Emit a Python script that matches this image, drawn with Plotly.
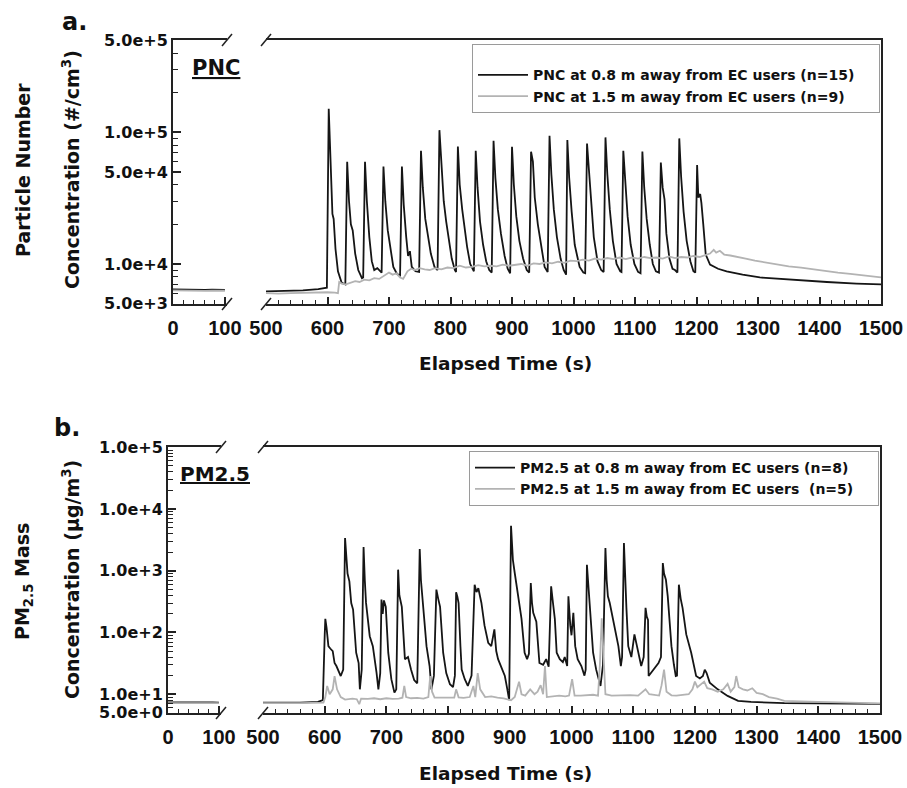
import math
import plotly.graph_objects as go

W, H = 907, 788

# ---------------- data ----------------
# Panel a: particle number concentration (#/cm3)
pnc_seg1_t = [0, 12, 25, 38, 50, 62, 75, 88, 100]
pnc08_seg1_v = [6400, 6380, 6420, 6360, 6400, 6350, 6380, 6340, 6360]
pnc15_seg1_v = [6300, 6280, 6320, 6260, 6300, 6250, 6280, 6240, 6260]

pnc08_t = [
    500, 530, 560, 585, 595, 599,
    602, 605, 608, 610, 613, 617, 623, 629,
    632, 635, 638, 641, 645, 650, 656, 658,
    661, 664, 668, 672, 676, 681, 686, 688,
    691, 694, 698, 702, 707, 713, 718,
    721, 724, 728, 731, 734, 737, 743, 749,
    752, 755, 759, 763, 768, 774, 779,
    782, 785, 789, 793, 797, 802, 807, 809,
    812, 815, 819, 822, 827, 832, 838,
    841, 844, 848, 853, 858, 863, 867,
    870, 873, 877, 882, 888, 893, 897,
    900, 903, 907, 912, 918, 924, 928,
    931, 934, 937, 942, 948, 953, 958,
    961, 964, 968, 973, 979, 984, 988,
    990, 993, 997, 1002, 1006, 1010, 1016, 1019,
    1022, 1025, 1028, 1033, 1039, 1045, 1049,
    1052, 1055, 1059, 1064, 1070, 1076, 1078,
    1081, 1084, 1088, 1093, 1099, 1105, 1109,
    1112, 1115, 1119, 1124, 1129, 1134, 1139,
    1142, 1145, 1148, 1151, 1156, 1161, 1165, 1169,
    1172, 1175, 1179, 1184, 1190, 1195, 1198,
    1201, 1203, 1206, 1208, 1211, 1215, 1222, 1235, 1249, 1275, 1303, 1350, 1412, 1460, 1500,
]
pnc08_v = [
    6200, 6250, 6300, 6450, 6500, 6600,
    151000, 50000, 24000, 22000, 13000, 8800, 7200, 7000,
    59700, 30000, 20000, 18000, 12000, 9000, 7800, 7900,
    59700, 30000, 16000, 10500, 9000, 9300, 8700, 8600,
    55000, 30000, 18000, 13000, 9500, 8400, 8200,
    55000, 28000, 16000, 11500, 12500, 9500, 8800, 8700,
    72400, 38000, 22000, 16500, 12000, 9500, 9000,
    104000, 55000, 30000, 21000, 16000, 11000, 9000, 8700,
    78200, 40000, 26000, 20000, 13500, 10000, 8800,
    72400, 38000, 21000, 14000, 10500, 9000, 8600,
    86400, 45000, 26000, 17000, 11500, 9200, 8500,
    77800, 40000, 23000, 15000, 11000, 9000, 8600,
    71300, 60000, 32000, 20000, 13000, 9500, 8700,
    94300, 48000, 26000, 16000, 11000, 9000, 8300,
    87500, 45000, 25000, 14000, 11500, 9500, 8600, 8500,
    82400, 54000, 30000, 16000, 10500, 9000, 8700,
    91600, 48000, 26000, 15000, 10000, 8800, 8700,
    72400, 40000, 23000, 14000, 10000, 8700, 8500,
    71600, 38000, 22000, 14000, 10000, 8800, 8600,
    59000, 38000, 31000, 17000, 11000, 9200, 9000, 8600,
    90000, 46000, 25000, 15000, 10500, 8800, 8600,
    56600, 32000, 34000, 29000, 20000, 11800, 9900, 9200, 8800, 8300, 7900, 7600, 7300, 7100, 7000,
]

pnc15_t = [
    500, 520, 540, 560, 580, 600, 612, 617, 619, 623, 630, 638, 645, 652, 660, 668,
    676, 684, 692, 700, 706, 712, 718, 723, 730, 736, 742, 750, 758, 766, 775, 785,
    795, 805, 815, 825, 835, 845, 855, 865, 875, 885, 895, 905, 915, 925, 935, 945,
    955, 965, 975, 985, 995, 1005, 1015, 1025, 1035, 1045, 1055, 1065, 1075, 1085,
    1095, 1105, 1115, 1125, 1135, 1145, 1155, 1165, 1175, 1185, 1195, 1205, 1215,
    1222, 1228, 1232, 1238, 1245, 1255, 1265, 1280, 1295, 1310, 1330, 1350, 1370,
    1390, 1410, 1430, 1450, 1470, 1485, 1500,
]
pnc15_v = [
    6000, 5950, 6000, 6050, 6100, 6100, 6050, 6000, 7300, 7100, 7000, 7200, 7400, 7300, 7600, 7500,
    7800, 7700, 8100, 8600, 8300, 8500, 7900, 7700, 8800, 9200, 9000, 9300, 9100, 9000, 9300, 9100,
    9400, 9300, 9700, 9400, 9500, 9800, 9600, 9700, 9600, 9900, 9700, 9800, 10000, 9700, 10100, 10000,
    10300, 10100, 10400, 10200, 10600, 10500, 10800, 10600, 11000, 10800, 11100, 10900, 11200, 10900,
    11200, 11000, 11300, 11100, 11200, 11000, 11400, 11100, 11300, 11200, 11500, 11300, 11700,
    12000, 12800, 12200, 12600, 11800, 11600, 11400, 11000, 10600, 10300, 9900, 9600, 9400,
    9100, 8900, 8600, 8400, 8200, 8000, 7900,
]

# Panel b: PM2.5 mass concentration (ug/m3)
pm_seg1_t = [0, 12, 25, 38, 50, 62, 75, 88, 100]
pm08_seg1_v = [7.4, 7.3, 7.4, 7.35, 7.4, 7.3, 7.4, 7.35, 7.3]
pm15_seg1_v = [7.2, 7.25, 7.2, 7.15, 7.2, 7.25, 7.2, 7.15, 7.2]

pm08_t = [
    500, 530, 560, 589, 597,
    600, 601, 603, 606, 609, 613, 616, 619, 626, 630,
    633, 635, 637, 640, 643, 646, 651, 655, 657,
    660, 663, 665, 667, 673, 678, 684, 687,
    690, 692, 694, 696, 699, 701, 703, 708, 713, 716,
    719, 721, 723, 725, 730, 735, 740, 745, 750,
    754, 756, 759, 765, 770, 773, 777,
    781, 784, 787, 792, 797, 803, 808, 811,
    813, 815, 817, 820, 822, 827, 832, 838,
    843, 846, 849, 854, 859, 865, 870, 875, 878, 881, 886, 892, 896, 899,
    902, 905, 908, 913, 919, 924, 928, 931,
    934, 936, 938, 943, 948, 954, 959, 963,
    967, 970, 973, 976, 981, 986, 989, 993,
    995, 998, 1000, 1003, 1006, 1010, 1016, 1021, 1023,
    1025, 1027, 1029, 1035, 1040, 1043, 1047, 1051,
    1055, 1057, 1059, 1062, 1067, 1072, 1076, 1080, 1082,
    1085, 1087, 1089, 1092, 1097, 1102, 1108, 1113, 1117,
    1120, 1122, 1124, 1125, 1129, 1133, 1137, 1141, 1145,
    1148, 1150, 1153, 1156, 1159, 1162, 1166, 1169, 1171,
    1174, 1177, 1180, 1186, 1194, 1202, 1208, 1213, 1216, 1219, 1224,
    1237, 1253, 1270, 1291, 1345, 1400, 1450, 1500,
]
pm08_v = [
    7.3, 7.2, 7.3, 7.5, 8.0,
    90, 166, 120, 60, 55, 50, 32, 28.6, 19.7, 25,
    3370, 1500, 900, 673, 300, 235, 47, 32, 12,
    25, 2410, 700, 301, 87, 60, 22.4, 12,
    22, 340, 200, 330, 260, 100, 47, 17.5, 10.6, 12,
    1040, 400, 300, 260, 37, 40, 25, 17, 15,
    2240, 700, 300, 60, 28.6, 12, 20,
    494, 350, 260, 47, 22, 14.5, 13, 20,
    447, 380, 300, 60, 25, 17.5, 13.6, 20,
    594, 450, 520, 300, 130, 68, 60, 112, 50, 37, 28, 19.7, 12, 8,
    5320, 1500, 918, 385, 166, 47, 37, 45,
    630, 300, 208, 150, 32, 30, 37, 28,
    558, 300, 166, 47, 37, 33, 40, 28.6,
    385, 130, 90, 208, 60, 37, 28.6, 20, 25,
    1250, 600, 300, 47, 25, 19.7, 13.6, 30,
    2320, 700, 385, 300, 166, 90, 60, 28.6, 40,
    2800, 700, 250, 60, 40, 93, 47, 28.6, 40,
    250, 180, 160, 19.7, 22, 25, 28.6, 32, 40,
    1330, 900, 716, 385, 150, 60, 30, 19.7, 20,
    594, 350, 250, 93, 47, 19.7, 18, 19.7, 25, 22, 15.4,
    12, 9.4, 7.8, 7.5, 7.2, 7.1, 7.05, 7.0,
]

pm15_t = [
    500, 530, 560, 598, 601, 604, 608, 613, 616, 620, 626, 633, 645, 652, 656, 659,
    670, 680, 690, 700, 710, 720, 726, 729, 732, 740, 750, 760, 768, 771, 774, 778,
    790, 800, 810, 813, 817, 825, 835, 841, 844, 848, 852, 860, 870, 880, 890, 898,
    902, 908, 915, 919, 925, 933, 940, 945, 950, 954, 957, 960, 970, 980, 990, 996,
    1001, 1005, 1015, 1025, 1035, 1043, 1046, 1049, 1052, 1055, 1065, 1080, 1095,
    1108, 1115, 1120, 1126, 1135, 1142, 1146, 1150, 1154, 1162, 1170, 1180, 1190,
    1196, 1200, 1204, 1210, 1215, 1220, 1228, 1237, 1246, 1253, 1258, 1264, 1267,
    1271, 1278, 1285, 1293, 1300, 1310, 1320, 1333, 1345, 1370, 1400, 1450, 1500,
]
pm15_v = [
    7.2, 7.3, 7.2, 7.3, 9, 13.6, 10, 12, 19.7, 12, 9, 8.2, 8.5, 8.3, 6.9, 8.5,
    8.4, 8.6, 8.3, 8.6, 8.4, 8.5, 8.8, 13.6, 9, 8.6, 8.7, 8.5, 9, 19.7, 11, 8.8,
    8.8, 8.6, 8.8, 12, 8.9, 8.7, 9, 13.6, 9, 22, 12, 9, 9.2, 8.8, 8.6, 8.2,
    8, 9, 15.9, 10, 9.5, 12, 10, 11, 14, 10, 28.6, 9, 9.3, 9.5, 9.2, 9.5,
    17.5, 9.5, 9.5, 9.6, 9.8, 9.5, 30, 170, 40, 10, 9.5, 9.6, 9.7,
    9.5, 11, 12, 10, 9.6, 9.5, 14, 25, 11, 9.6, 9.5, 9.8, 10,
    12, 16, 13, 14.5, 16, 12.5, 12, 11, 12, 14.7, 11, 13, 19.7,
    13, 12, 11.5, 12.5, 10.5, 10, 9, 8.5, 7.8, 7.6, 7.5, 7.3, 7.1,
]

pnc_tickvals = [5e3, 1e4, 5e4, 1e5, 5e5]
pnc_ticktext = ["5.0e+3", "1.0e+4", "5.0e+4", "1.0e+5", "5.0e+5"]
pnc_minorvals = [6e3, 7e3, 8e3, 9e3, 2e4, 3e4, 4e4, 6e4, 7e4, 8e4, 9e4, 2e5, 3e5, 4e5]
pm_tickvals = [5, 10, 100, 1000, 1e4, 1e5]
pm_ticktext = ["5.0e+0", "1.0e+1", "1.0e+2", "1.0e+3", "1.0e+4", "1.0e+5"]
pm_minorvals = [6, 7, 8, 9] + [m * 10 ** e for e in (1, 2, 3, 4) for m in range(2, 10)]

assert len(pnc08_t) == len(pnc08_v)
assert len(pnc15_t) == len(pnc15_v)
assert len(pm08_t) == len(pm08_v)
assert len(pm15_t) == len(pm15_v)

# ---------------- layout geometry (pixels) ----------------
A = dict(left=173, seg1_end=227, seg2_start=266, right=881, top=40, bottom=304)
B = dict(left=168, seg1_end=221, seg2_start=263, right=880, top=447, bottom=713)


def xp(px):
    return px / W


def yp(py):
    return 1 - py / H


BLACK = "#151515"
GRAY = "#b3b3b3"
FRAME = "#222222"
XTICK_FONT = dict(family="Liberation Sans, Arial", size=20, color="#111", weight="bold")
YTICK_FONT = dict(family="DejaVu Sans", size=16, color="#111", weight="bold")
TXT = "DejaVu Sans"


def xcfg(g, seg, anchor):
    if seg == 1:
        dom = [xp(g["left"]), xp(g["seg1_end"])]
        rng, t0 = [0, 104], 0
    else:
        dom = [xp(g["seg2_start"]), xp(g["right"])]
        rng, t0 = [500, 1500], 500
    return dict(domain=dom, range=rng, anchor=anchor, tickmode="linear", tick0=t0, dtick=100,
                ticks="inside", ticklen=7, tickwidth=1.5, tickcolor=FRAME,
                minor=dict(ticks="inside", tickmode="linear", tick0=t0, dtick=20, ticklen=4,
                           tickwidth=1, tickcolor=FRAME, showgrid=False),
                showline=True, linewidth=2, linecolor=FRAME, mirror=True, automargin=False,
                showgrid=False, zeroline=False, tickfont=XTICK_FONT, ticklabelstandoff=5)


def ycfg(g, rng, tv, tt, mv, anchor, right=False):
    d = dict(domain=[yp(g["bottom"]), yp(g["top"])], type="log", range=rng, anchor=anchor,
             showline=True, linewidth=2, linecolor=FRAME, showgrid=False, zeroline=False,
             automargin=False)
    if right:
        d.update(side="right", showticklabels=False, ticks="")
    else:
        d.update(tickmode="array", tickvals=tv, ticktext=tt, ticks="inside", ticklen=8,
                 tickwidth=1.5, tickcolor=FRAME, tickfont=YTICK_FONT, ticklabelstandoff=0,
                 minor=dict(ticks="inside", tickmode="array", tickvals=mv, ticklen=5,
                            tickwidth=1, tickcolor=FRAME, showgrid=False))
    return d


eps = 0.003
rng_a = [math.log10(5e3) - eps, math.log10(5e5) + eps]
rng_b = [math.log10(5) - eps, 5 + eps]

fig = go.Figure()


def line(x, y, xa, ya, color, name=None, legend=None, show=False, rank=None):
    fig.add_trace(go.Scatter(x=x, y=y, xaxis=xa, yaxis=ya, mode="lines", name=name,
                             line=dict(color=color, width=1.8), showlegend=show,
                             legend=legend, legendrank=rank if rank else 1000,
                             hoverinfo="skip"))


PAD = "\u00a0" * 4
# panel a
line(pnc_seg1_t, pnc08_seg1_v, "x", "y", BLACK)
line(pnc_seg1_t, pnc15_seg1_v, "x", "y", GRAY)
line(pnc08_t, pnc08_v, "x2", "y2", BLACK, "PNC at 0.8 m away from EC users (n=15)" + PAD, "legend", True, 1)
line(pnc15_t, pnc15_v, "x2", "y2", GRAY, "PNC at 1.5 m away from EC users (n=9)", "legend", True, 2)
# panel b
line(pm_seg1_t, pm08_seg1_v, "x3", "y3", BLACK)
line(pm_seg1_t, pm15_seg1_v, "x3", "y3", GRAY)
line(pm08_t, pm08_v, "x4", "y4", BLACK, "PM2.5 at 0.8 m away from EC users (n=8)", "legend2", True, 1)
line(pm15_t, pm15_v, "x4", "y4", GRAY, "PM2.5 at 1.5 m away from EC users  (n=5)" + PAD, "legend2", True, 2)

LEG_FONT = dict(family=TXT, size=14, color="#111", weight="bold")

fig.update_layout(
    width=W, height=H, margin=dict(l=0, r=0, t=0, b=0, autoexpand=False),
    paper_bgcolor="white", plot_bgcolor="white",
    xaxis=xcfg(A, 1, "y"), xaxis2=xcfg(A, 2, "y2"),
    yaxis=ycfg(A, rng_a, pnc_tickvals, pnc_ticktext, pnc_minorvals, "x"),
    yaxis2=ycfg(A, rng_a, None, None, None, "x2", right=True),
    xaxis3=xcfg(B, 1, "y3"), xaxis4=xcfg(B, 2, "y4"),
    yaxis3=ycfg(B, rng_b, pm_tickvals, pm_ticktext, pm_minorvals, "x3"),
    yaxis4=ycfg(B, rng_b, None, None, None, "x4", right=True),
    legend=dict(x=xp(472), y=yp(44), xanchor="left", yanchor="top", bgcolor="white",
                bordercolor="#9a9a9a", borderwidth=1, font=LEG_FONT, itemwidth=50,
                title=dict(text="\u00a0", font=dict(size=11))),
    legend2=dict(x=xp(469), y=yp(451), xanchor="left", yanchor="top", bgcolor="white",
                 bordercolor="#9a9a9a", borderwidth=1, font=LEG_FONT, itemwidth=40),
    showlegend=True,
)

annots = [
    dict(text="a.", x=xp(74), y=yp(22), size=24),
    dict(text="b.", x=xp(67), y=yp(428), size=24),
    dict(text="<u>PNC</u>", x=xp(216), y=yp(68), size=21),
    dict(text="<u>PM2.5</u>", x=xp(215), y=yp(474), size=20),
    dict(text="Particle Number", x=xp(23), y=yp(170), size=19, angle=-90),
    dict(text="Concentration (#/cm<sup>3</sup>)", x=xp(71), y=yp(170), size=19, angle=-90),
    dict(text="PM<sub>2.5</sub> Mass", x=xp(23), y=yp(582), size=19, angle=-90),
    dict(text="Concentration (\u00b5g/m<sup>3</sup>)", x=xp(71), y=yp(580), size=19, angle=-90),
    dict(text="Elapsed Time (s)", x=xp(505), y=yp(364), size=18.5),
    dict(text="Elapsed Time (s)", x=xp(505), y=yp(773), size=18.5),
]
for a in annots:
    fig.add_annotation(text=a["text"], x=a["x"], y=a["y"], xref="paper", yref="paper",
                       xanchor="center", yanchor="middle", showarrow=False,
                       textangle=a.get("angle", 0),
                       font=dict(family=TXT, size=a["size"], color="#111", weight="bold"))

# axis-break slashes at the segment ends (top and bottom frame lines)
for g in (A, B):
    for xe in (g["seg1_end"], g["seg2_start"]):
        for ye in (g["top"], g["bottom"]):
            fig.add_shape(type="line", xref="paper", yref="paper",
                          x0=xp(xe - 5), y0=yp(ye + 6), x1=xp(xe + 5), y1=yp(ye - 6),
                          line=dict(color=FRAME, width=1.5))

fig.write_html("out.html", config={"displayModeBar": False},
               post_script="document.body.style.margin='0';")
